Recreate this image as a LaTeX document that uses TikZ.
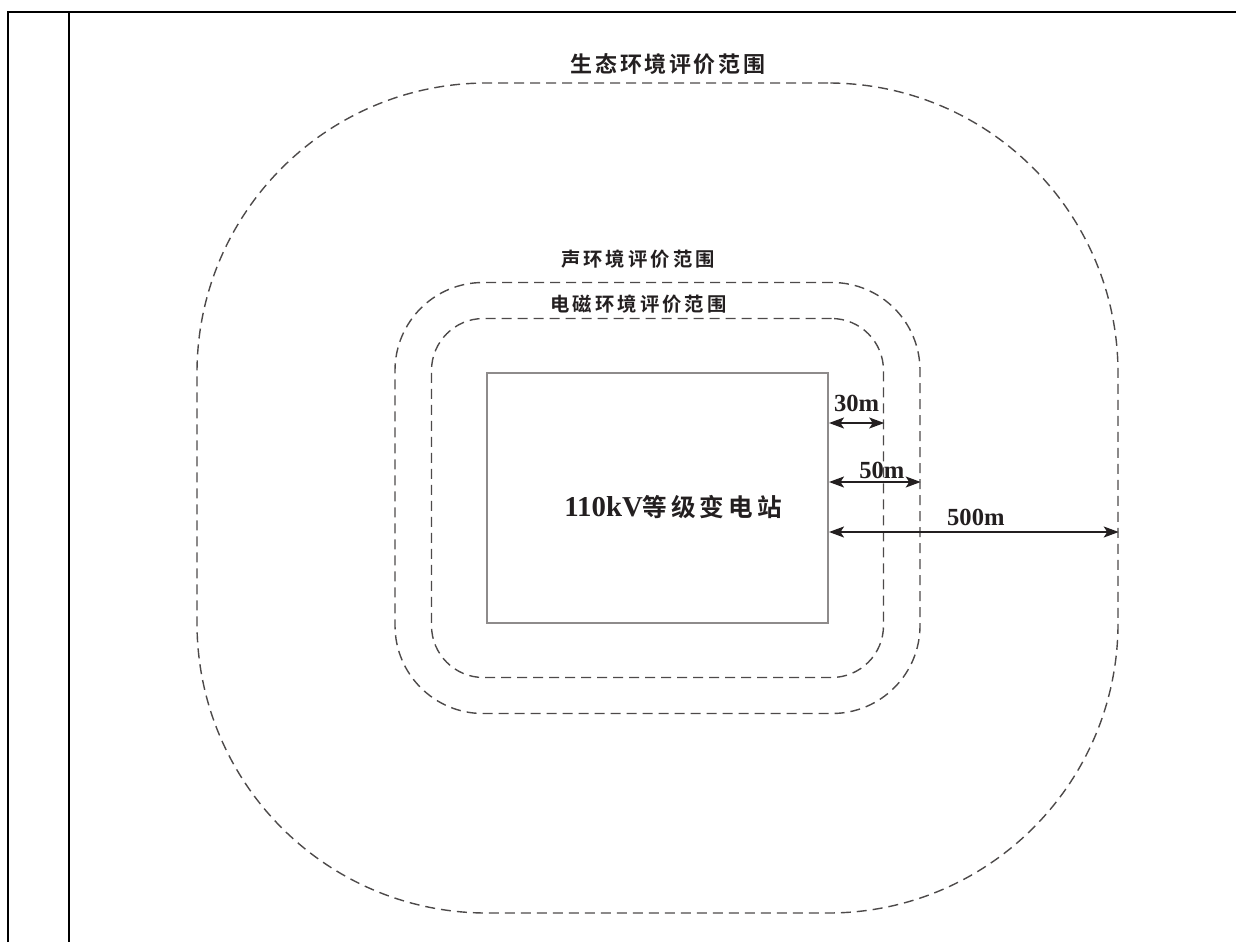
\documentclass[tikz,border=0pt]{standalone}
\usepackage{fontspec}
\setmainfont{Liberation Serif}
\newfontfamily\cjk{Noto Sans CJK SC}[BoldFont={Noto Sans CJK SC Bold}]
\usepackage{tikz}
\usetikzlibrary{arrows.meta,positioning}
\definecolor{ink}{HTML}{231F20}
\definecolor{dashg}{HTML}{4D4A4A}
\definecolor{boxg}{HTML}{8E8B8B}

\begin{document}
\begin{tikzpicture}[
  x=0.2mm, y=-0.2mm,
  >={Stealth[length=3mm, width=2.2mm, inset=0.7mm]},
  zone/.style={draw=dashg, line width=0.28mm, dash pattern=on 2mm off 1.2mm, inner sep=0pt},
  ttl/.style={text=ink, inner sep=0pt},
  dim/.style={<->, draw=ink, line width=0.32mm},
  dlab/.style={font=\bfseries\fontsize{14}{14}\selectfont, text=ink, inner sep=0pt},
  frm/.style={draw=black, line width=0.55mm}]
  \useasboundingbox (0,0) rectangle (1236,942);
  % table frame
  \draw[frm] (8,942) -- (8,12) -- (1236,12);
  \draw[frm] (69,12) -- (69,942);
  % substation and assessment ranges
  \coordinate (c) at (657.5,498);
  \node[draw=boxg, line width=0.4mm, minimum width=68.2mm, minimum height=50mm, inner sep=0pt] (sub) at (c) {};
  \node[zone, rounded corners=10.4mm, minimum width=90.4mm, minimum height=71.8mm] (emf) at (c) {};
  \node[zone, rounded corners=17.6mm, minimum width=105mm, minimum height=86.2mm] (noise) at (c) {};
  \node[zone, rounded corners=58mm, minimum width=184.2mm, minimum height=166mm] (eco) at (c) {};
  \node[ttl, font=\cjk\bfseries\fontsize{12.5}{12.5}\selectfont\addfontfeature{LetterSpace=12},
        above=1.4mm of eco.north, xshift=2.1mm] (ecot) {生态环境评价范围};
  \node[ttl, font=\cjk\bfseries\fontsize{11}{11}\selectfont\addfontfeature{LetterSpace=16},
        above=2.7mm of noise.north, xshift=-3.9mm] (noiset) {声环境评价范围};
  \node[ttl, font=\cjk\bfseries\fontsize{11}{11}\selectfont\addfontfeature{LetterSpace=16},
        above=0.9mm of emf.north, xshift=-3.8mm] (emft) {电磁环境评价范围};
  \node[ttl, font=\bfseries\fontsize{16.4}{16.4}\selectfont] (subt) at (673,507)
    {110kV{\cjk\bfseries\fontsize{14}{14}\selectfont\addfontfeature{LetterSpace=16}等级变电站}};
  % distances
  \coordinate (d30) at (0,423);
  \coordinate (d50) at (0,482);
  \coordinate (d500) at (0,532);
  \draw[dim] (sub.east |- d30) -- node[dlab, above=2mm] {30m} (emf.east |- d30);
  \draw[dim] (sub.east |- d50) -- node[dlab, above=0.5mm, xshift=1.4mm] {50m} (noise.east |- d50);
  \draw[dim] (sub.east |- d500) -- node[dlab, above=1.1mm, xshift=0.4mm] {500m} (eco.east |- d500);
\end{tikzpicture}
\end{document}
